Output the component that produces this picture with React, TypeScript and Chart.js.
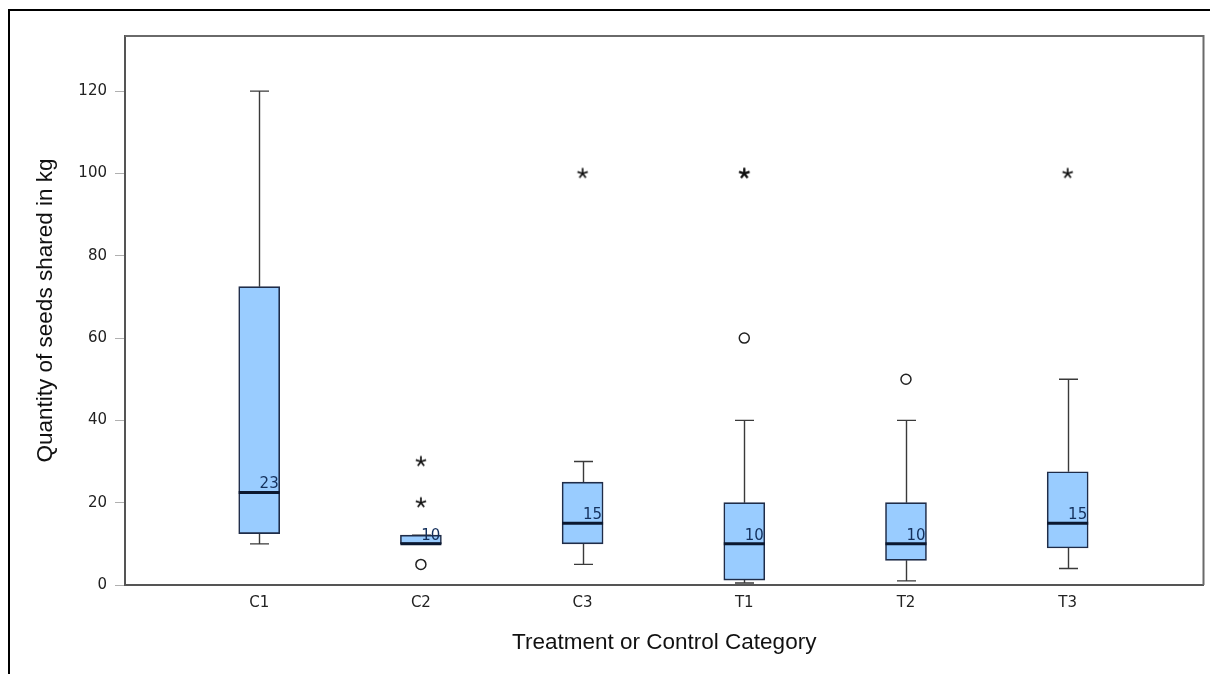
import React, { useEffect, useRef } from 'react';
import { Chart, registerables } from 'chart.js';

Chart.register(...registerables);

const categories = ['C1', 'C2', 'C3', 'T1', 'T2', 'T3'];
const whiskerLow = [10, 10, 5, 0.5, 1, 4];
const q1 = [12.5, 10, 10, 1.2, 6, 9];
const median = [22.5, 10, 15, 10, 10, 15];
const q3 = [72.5, 12.1, 25, 20, 20, 27.5];
const whiskerHigh = [120, 12.1, 30, 40, 40, 50];
const medianLabels = ['23', '10', '15', '10', '10', '15'];
const circleOutliers: number[][] = [[], [5], [], [60], [50], []];
const starOutliers: number[][] = [[], [20, 30], [100], [100, 100], [], [100]];
const yTicks = [0, 20, 40, 60, 80, 100, 120];

const xTitle = 'Treatment or Control Category';
const yTitle = 'Quantity of seeds shared in kg';

function makeStar(): HTMLCanvasElement {
  const c = document.createElement('canvas');
  c.width = 14;
  c.height = 14;
  const g = c.getContext('2d')!;
  g.strokeStyle = '#111';
  g.lineWidth = 1.7;
  for (let k = 0; k < 5; k++) {
    const a = -Math.PI / 2 + (k * 2 * Math.PI) / 5;
    g.beginPath();
    g.moveTo(7, 7);
    g.lineTo(7 + 5.4 * Math.cos(a), 7 + 5.4 * Math.sin(a));
    g.stroke();
  }
  return c;
}

const boxDecor = {
  id: 'boxDecor',
  beforeDatasetsDraw(chart: any) {
    const { ctx, scales } = chart;
    const x = scales.x;
    const y = scales.y;
    ctx.save();
    ctx.strokeStyle = '#3a3a3a';
    ctx.lineWidth = 1.4;
    const capHalf = 9.5;
    categories.forEach((_, i) => {
      const cx = Math.round(x.getPixelForValue(i)) + 0.5;
      const yLo = y.getPixelForValue(whiskerLow[i]);
      const yQ1 = y.getPixelForValue(q1[i]);
      const yQ3 = y.getPixelForValue(q3[i]);
      const yHi = y.getPixelForValue(whiskerHigh[i]);
      ctx.beginPath();
      ctx.moveTo(cx, yQ3);
      ctx.lineTo(cx, yHi);
      ctx.moveTo(cx - capHalf, yHi);
      ctx.lineTo(cx + capHalf, yHi);
      ctx.moveTo(cx, yQ1);
      ctx.lineTo(cx, yLo);
      ctx.moveTo(cx - capHalf, yLo);
      ctx.lineTo(cx + capHalf, yLo);
      ctx.stroke();
    });
    ctx.restore();
  },
  afterDatasetsDraw(chart: any) {
    const { ctx, scales } = chart;
    const x = scales.x;
    const y = scales.y;
    const half = 20.5;
    ctx.save();
    categories.forEach((_, i) => {
      const cx = x.getPixelForValue(i);
      const ym = y.getPixelForValue(median[i]);
      ctx.strokeStyle = '#0b1830';
      ctx.lineWidth = 3;
      ctx.beginPath();
      ctx.moveTo(cx - half, ym);
      ctx.lineTo(cx + half, ym);
      ctx.stroke();
      ctx.fillStyle = '#14305c';
      ctx.font = '15px "DejaVu Sans"';
      ctx.textAlign = 'right';
      ctx.textBaseline = 'alphabetic';
      ctx.fillText(medianLabels[i], cx + half - 1, ym - 4);
    });
    ctx.restore();
  },
  afterDraw(chart: any) {
    const { ctx, chartArea } = chart;
    ctx.save();
    ctx.strokeStyle = '#6a6a6a';
    ctx.lineWidth = 2;
    ctx.beginPath();
    ctx.moveTo(chartArea.left, chartArea.top);
    ctx.lineTo(chartArea.right, chartArea.top);
    ctx.lineTo(chartArea.right, chartArea.bottom);
    ctx.stroke();
    ctx.restore();
  },
};

export default function App() {
  const ref = useRef<HTMLCanvasElement>(null);

  useEffect(() => {
    if (!ref.current) return;
    const star = makeStar();
    const boxData = categories.map((_, i) => ({ x: i, y: [q1[i], q3[i]] }));
    const circlePts = circleOutliers.flatMap((vals, i) => vals.map((v) => ({ x: i, y: v })));
    const starPts = starOutliers.flatMap((vals, i) => vals.map((v) => ({ x: i, y: v })));

    const chart = new Chart(ref.current, {
      type: 'bar',
      data: {
        datasets: [
          {
            type: 'bar',
            data: boxData as any,
            backgroundColor: 'rgb(153,204,255)',
            borderColor: '#1f2c48',
            borderWidth: 1.6,
            borderSkipped: false,
            barThickness: 41,
          } as any,
          {
            type: 'scatter',
            data: circlePts,
            pointStyle: 'circle',
            pointRadius: 5,
            pointBorderColor: '#222',
            pointBorderWidth: 1.5,
            pointBackgroundColor: 'rgba(255,255,255,0)',
          } as any,
          {
            type: 'scatter',
            data: starPts,
            pointStyle: star,
            pointRadius: 5,
          } as any,
        ],
      },
      options: {
        responsive: false,
        animation: false,
        layout: { padding: { left: 0, right: 5, top: 36, bottom: 0 } },
        plugins: { legend: { display: false }, tooltip: { enabled: false } },
        scales: {
          x: {
            type: 'linear',
            offset: false,
            min: -0.83,
            max: 5.84,
            afterBuildTicks: (s: any) => {
              s.ticks = categories.map((_, i) => ({ value: i }));
            },
            afterFit: (s: any) => {
              s.height = 89;
            },
            grid: { display: false, drawTicks: false, offset: false },
            border: { display: true, color: '#555', width: 2 },
            ticks: {
              autoSkip: false,
              maxRotation: 0,
              padding: 9,
              color: '#222',
              font: { family: '"DejaVu Sans"', size: 15 },
              callback: (v: any) => categories[v] ?? '',
            },
            title: {
              display: true,
              text: xTitle,
              color: '#111',
              font: { family: '"Liberation Sans"', size: 22.5 },
              padding: { top: 0, bottom: 18 },
            },
          },
          y: {
            type: 'linear',
            min: 0,
            max: 133.4,
            afterBuildTicks: (s: any) => {
              s.ticks = yTicks.map((v) => ({ value: v }));
            },
            afterFit: (s: any) => {
              s.width = 125;
            },
            grid: { drawOnChartArea: false, drawTicks: true, tickLength: 10, color: '#b0b0b0' },
            border: { display: true, color: '#555', width: 2 },
            ticks: {
              padding: 8,
              color: '#222',
              font: { family: '"DejaVu Sans"', size: 15 },
            },
            title: {
              display: true,
              text: yTitle,
              color: '#111',
              font: { family: '"Liberation Sans"', size: 22.5 },
              padding: { top: 32, bottom: 0 },
            },
          },
        },
      } as any,
      plugins: [boxDecor],
    });
    return () => chart.destroy();
  }, []);

  return (
    <div style={{ position: 'absolute', left: 0, top: 0, width: 1210, height: 674, overflow: 'hidden', background: '#fff' }}>
      <div
        style={{
          position: 'absolute',
          left: 8,
          top: 9,
          width: 1202,
          height: 665,
          borderTop: '2px solid #000',
          borderLeft: '2px solid #000',
          boxSizing: 'border-box',
        }}
      />
      <canvas ref={ref} width={1210} height={674} style={{ position: 'absolute', left: 0, top: 0, width: 1210, height: 674 }} />
    </div>
  );
}
